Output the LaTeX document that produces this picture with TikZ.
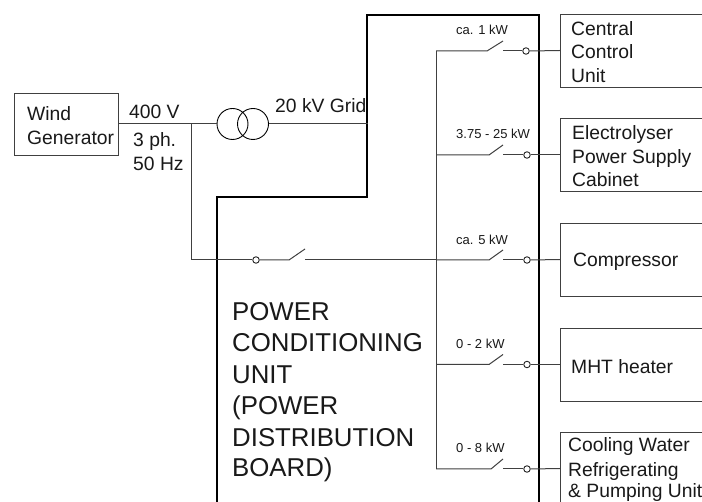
\documentclass[tikz,border=0pt]{standalone}
\usepackage{fontspec}
\setmainfont{Liberation Sans}
\tikzset{
  loadbox/.style={rectangle, draw=black!75, line width=0.9pt, minimum width=150pt, minimum height=73pt, anchor=west},
  contact/.style={circle, draw=black!85, fill=white, line width=0.9pt, minimum size=6.5pt, inner sep=0pt},
  wire/.style={draw=black!75, line width=1pt},
  txt/.style={inner sep=0pt, anchor=base west, align=left, text=black!90},
  boxtxt/.style={txt, font=\fontsize{19.3}{24}\selectfont},
  kwtxt/.style={txt, font=\fontsize{13}{15}\selectfont},
  bigtxt/.style={txt, font=\fontsize{25.8}{31.3}\selectfont}
}
\begin{document}
\begin{tikzpicture}[x=1pt,y=-1pt]
\useasboundingbox (0,0) rectangle (702,502);
\clip (0,0) rectangle (702,502);
\fill[white] (0,0) rectangle (702,502);

% distribution board outline
\draw[line width=2.7pt, line join=miter] (217,510) -- (217,197) -- (367,197) -- (367,15) -- (539,15) -- (539,510);

% generator and transformer
\node[rectangle, draw=black!75, line width=0.9pt, minimum width=104pt, minimum height=62pt] (gen) at (66,124) {};
\node[circle, draw=black, line width=0.9pt, minimum size=31pt, inner sep=0pt] (trafoa) at (232.5,124) {};
\node[circle, draw=black, line width=0.9pt, minimum size=31pt, inner sep=0pt] (trafob) at (253,124) {};
\coordinate (grid) at (368,124);
\coordinate (tee) at (191,124);

\node[boxtxt] (genlabel) at (27,120.7) {Wind};
\node[boxtxt] (genlabelb) at (27,145) {Generator};
\node[boxtxt] (volt) at (129,119) {400 V};
\node[boxtxt] (phase) at (133,147) {3 ph.};
\node[boxtxt] (freq) at (133,171) {50 Hz};
\node[boxtxt] (gridlabel) at (275,113) {20 kV Grid};

\node[bigtxt] (pcua) at (232,321) {POWER};
\node[bigtxt] (pcub) at (232,352) {CONDITIONING};
\node[bigtxt] (pcuc) at (232,384) {UNIT};
\node[bigtxt] (pcud) at (232,415) {(POWER};
\node[bigtxt] (pcue) at (232,447) {DISTRIBUTION};
\node[bigtxt] (pcuf) at (232,477) {BOARD)};

% loads
\node[loadbox] (ccu) at (560,50.5) {};
\node[loadbox] (elec) at (560,155) {};
\node[loadbox] (comp) at (560,259.5) {};
\node[loadbox] (mht) at (560,364.5) {};
\node[loadbox] (cool) at (560,468.5) {};

\node[boxtxt] (ccua) at (571,36) {Central};
\node[boxtxt] (ccub) at (571,59) {Control};
\node[boxtxt] (ccuc) at (571,83) {Unit};
\node[boxtxt] (eleca) at (572,140) {Electrolyser};
\node[boxtxt] (elecb) at (572,164) {Power Supply};
\node[boxtxt] (elecc) at (572,187) {Cabinet};
\node[boxtxt] (complabel) at (573,267) {Compressor};
\node[boxtxt] (mhtlabel) at (571,374) {MHT heater};
\node[boxtxt] (coola) at (568,452) {Cooling Water};
\node[boxtxt] (coolb) at (568,477) {Refrigerating};
\node[boxtxt] (coolc) at (568,497.5) {\& Pumping Unit};

\node[kwtxt] (kwa) at (456,35) {ca. 1 kW};
\node[kwtxt] (kwb) at (456,139) {3.75 - 25 kW};
\node[kwtxt] (kwc) at (456,245) {ca. 5 kW};
\node[kwtxt] (kwd) at (456,349) {0 - 2 kW};
\node[kwtxt] (kwe) at (456,453) {0 - 8 kW};

% contacts
\node[contact] (cin) at (256,260) {};
\node[contact] (ca) at (526,51) {};
\node[contact] (cb) at (527,155) {};
\node[contact] (cc) at (527,260) {};
\node[contact] (cd) at (527,364.5) {};
\node[contact] (ce) at (527,469) {};

% switch points
\coordinate (inl) at (289,260);
\coordinate (int) at (305,249);
\coordinate (inr) at (305,260);
\coordinate (busa) at (436,51);
\coordinate (busb) at (436,155);
\coordinate (busc) at (436,260);
\coordinate (busd) at (436,364.5);
\coordinate (buse) at (436,469);
\coordinate (sal) at (487,51);
\coordinate (sat) at (503,41);
\coordinate (sar) at (503,51);
\coordinate (sbl) at (489,155);
\coordinate (sbt) at (503,145);
\coordinate (sbr) at (503,155);
\coordinate (scl) at (489,260);
\coordinate (sct) at (503,250);
\coordinate (scr) at (503,260);
\coordinate (sdl) at (489,364.5);
\coordinate (sdt) at (503,354.5);
\coordinate (sdr) at (503,364.5);
\coordinate (sel) at (491,469);
\coordinate (set) at (503,459);
\coordinate (ser) at (503,469);

% wiring
\draw[wire] (gen.east) -- (trafoa.west);
\draw[wire] (trafob.east) -- (grid);
\draw[wire] (tee) |- (cin.west);
\draw[wire] (cin.east) -- (inl) -- (int);
\draw[wire] (inr) -- (busc);
\draw[wire] (busa) -- (buse);

\draw[wire] (busa) -- (sal) -- (sat);
\draw[wire] (sar) -- (ca.west);
\draw[wire] (ca.east) -- (ccu.west);
\draw[wire] (busb) -- (sbl) -- (sbt);
\draw[wire] (sbr) -- (cb.west);
\draw[wire] (cb.east) -- (elec.west);
\draw[wire] (busc) -- (scl) -- (sct);
\draw[wire] (scr) -- (cc.west);
\draw[wire] (cc.east) -- (comp.west);
\draw[wire] (busd) -- (sdl) -- (sdt);
\draw[wire] (sdr) -- (cd.west);
\draw[wire] (cd.east) -- (mht.west);
\draw[wire] (buse) -- (sel) -- (set);
\draw[wire] (ser) -- (ce.west);
\draw[wire] (ce.east) -- (cool.west);
\end{tikzpicture}
\end{document}
